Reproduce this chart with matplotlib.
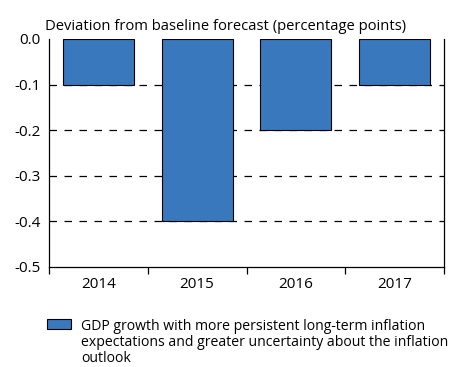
import matplotlib
matplotlib.use("Agg")
import matplotlib.pyplot as plt
from matplotlib.patches import Rectangle
from matplotlib.ticker import FixedLocator

plt.rcParams['font.family'] = ['Open Sans', 'DejaVu Sans']

years = ["2014", "2015", "2016", "2017"]
values = [-0.1, -0.4, -0.2, -0.1]
yticks = [0.0, -0.1, -0.2, -0.3, -0.4, -0.5]
ytick_labels = ["0.0", "-0.1", "-0.2", "-0.3", "-0.4", "-0.5"]
title = "Deviation from baseline forecast (percentage points)"
legend_lines = ["GDP growth with more persistent long-term inflation",
                "expectations and greater uncertainty about the inflation",
                "outlook"]
bar_color = "#3a78be"

W, H = 466, 367
fig = plt.figure(figsize=(W/100, H/100), dpi=100)
ax = fig.add_axes([49/W, 1-267/H, (444-49)/W, (267-39)/H])

x = list(range(len(years)))
ax.bar(x, values, width=0.72, color=bar_color, edgecolor="black", linewidth=0.8, zorder=3)

for yv in yticks[1:-1]:
    ax.axhline(yv, color="black", linestyle=(0, (6, 6)), linewidth=0.9, zorder=1)

ax.set_xlim(-0.5, len(years)-0.5)
ax.set_ylim(-0.5, 0.0)
ax.set_yticks(yticks)
ax.set_yticklabels(ytick_labels, fontsize=11)
ax.tick_params(axis='y', length=0, pad=6)
ax.set_xticks(x)
ax.set_xticklabels(years, fontsize=11)
ax.tick_params(axis='x', which='major', length=0, pad=7)
ax.xaxis.set_minor_locator(FixedLocator([i - 0.5 for i in range(len(years)+1)]))
ax.tick_params(axis='x', which='minor', length=5, width=0.9, direction='out')
ax.spines['top'].set_visible(False)
for s in ['left', 'right', 'bottom']:
    ax.spines[s].set_linewidth(0.9)

fig.text(45/W, 1-30.5/H, title, fontsize=10.6, ha='left', va='baseline')

fig.patches.append(Rectangle((47/W, 1-329/H), 24/W, 10/H, transform=fig.transFigure,
                             facecolor=bar_color, edgecolor="black", linewidth=0.8))
for i, line in enumerate(legend_lines):
    fig.text(81/W, 1-(330 + 16*i)/H, line, fontsize=10.1, ha='left', va='baseline')

fig.savefig("out.png", dpi=100)
